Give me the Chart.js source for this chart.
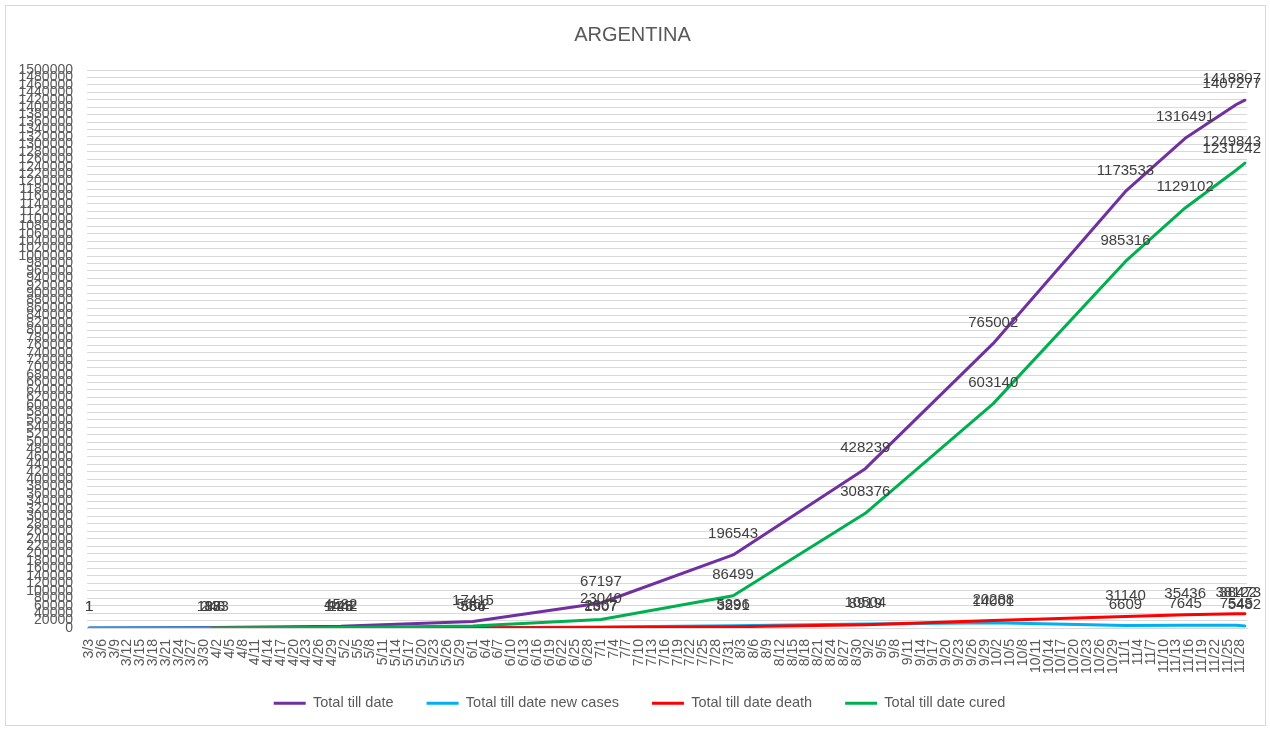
<!DOCTYPE html>
<html>
<head>
<meta charset="utf-8">
<script src="https://cdn.jsdelivr.net/npm/chart.js@4.4.0/dist/chart.umd.min.js"></script>
<style>
  html, body { margin: 0; padding: 0; background: #fff; }
  #frame { position: absolute; left: 5px; top: 5px; width: 1259px; height: 719px; border: 1px solid #d9d9d9; }
</style>
</head>
<body>
<div id="frame"><canvas id="chart" width="1259" height="719"></canvas></div>
<script>
// dates that carry a reading, and the readings themselves
const pointDates = ['3/3', '4/1', '5/1', '6/1', '7/1', '8/1', '9/1', '10/1', '11/1', '11/15', '11/27', '11/29'];
const totalCases = [1, 1133, 4532, 17415, 67197, 196543, 428239, 765002, 1173533, 1316491, 1407277, 1418807];
const newCases = [1, 88, 143, 564, 2667, 5896, 10504, 14001, 6609, 7645, 7545, 5482];
const deaths = [null, 37, 225, 556, 1307, 3291, 8919, 20288, 31140, 35436, 38122, 38473];
const cured = [null, 248, 1442, 5662, 23040, 86499, 308376, 603140, 985316, 1129102, 1231242, 1249843];

const seriesNames = ['Total till date', 'Total till date new cases', 'Total till date death', 'Total till date cured'];
const seriesColors = ['#7030A0', '#00B0F0', '#FF0000', '#00B050'];

// y axis: 0 .. 1500000 every 20000
const yMin = 0, yMax = 1500000, yStep = 20000;

// date axis, one category per day, 3/3 .. 11/29 (2020)
const dayLabels = [];
for (let d = new Date(2020, 2, 3); d <= new Date(2020, 10, 29); d.setDate(d.getDate() + 1)) {
    dayLabels.push((d.getMonth() + 1) + '/' + d.getDate());
}

function onAxis(values) {
    return dayLabels.map(function (lbl) {
        const i = pointDates.indexOf(lbl);
        return i < 0 ? null : values[i];
    });
}

const FONT = '"Liberation Sans", Arial, sans-serif';

// data labels above each reading, kept inside the frame on the right
const pointLabels = {
    id: 'pointLabels',
    afterDatasetsDraw(chart) {
        const ctx = chart.ctx;
        const maxRight = chart.width - 4;
        ctx.save();
        ctx.font = '15px ' + FONT;
        ctx.fillStyle = '#404040';
        ctx.textAlign = 'center';
        ctx.textBaseline = 'middle';
        chart.data.datasets.forEach(function (ds, di) {
            const meta = chart.getDatasetMeta(di);
            meta.data.forEach(function (pt, i) {
                const v = ds.data[i];
                if (v === null || v === undefined) return;
                const txt = String(v);
                const half = ctx.measureText(txt).width / 2;
                const x = Math.min(pt.x, maxRight - half);
                ctx.fillText(txt, x, pt.y - 21);
            });
        });
        ctx.restore();
    }
};

// legend sits closer to the axis labels and a little right of centre
const legendNudge = {
    id: 'legendNudge',
    afterLayout(chart) {
        chart.legend.top -= 12;
        chart.legend.bottom -= 12;
        chart.legend.left += 7;
        chart.legend.right += 7;
    }
};

const allSeries = [totalCases, newCases, deaths, cured];

new Chart(document.getElementById('chart'), {
    type: 'line',
    data: {
        labels: dayLabels,
        datasets: allSeries.map(function (vals, i) {
            return {
                label: seriesNames[i],
                data: onAxis(vals),
                borderColor: seriesColors[i],
                backgroundColor: seriesColors[i],
                borderWidth: 3,
                borderCapStyle: 'round',
                borderJoinStyle: 'round',
                pointRadius: 0,
                tension: 0,
                spanGaps: true,
                order: 4 - i
            };
        })
    },
    options: {
        responsive: false,
        animation: false,
        layout: { padding: { left: 12, right: 18, top: 0, bottom: -7.5 } },
        plugins: {
            title: {
                display: true,
                text: 'ARGENTINA',
                color: '#595959',
                font: { family: FONT, size: 20, weight: 'normal' },
                padding: { top: 17, bottom: 23 }
            },
            legend: {
                position: 'bottom',
                labels: {
                    color: '#595959',
                    font: { family: FONT, size: 14.5 },
                    boxWidth: 32,
                    boxHeight: 3,
                    padding: 33,
                    generateLabels: function (chart) {
                        return chart.data.datasets.map(function (ds, i) {
                            return {
                                text: ds.label,
                                fillStyle: ds.borderColor,
                                strokeStyle: ds.borderColor,
                                lineWidth: 0,
                                hidden: false,
                                datasetIndex: i,
                                fontColor: '#595959'
                            };
                        });
                    }
                }
            },
            tooltip: { enabled: false }
        },
        scales: {
            x: {
                offset: true,
                grid: { display: false, drawTicks: false },
                border: { color: '#D9D9D9' },
                afterFit: function (scale) {
                    scale.height = 47;
                    scale.paddingLeft = 0;
                    scale.paddingRight = 0;
                },
                ticks: {
                    autoSkip: false,
                    maxRotation: 90,
                    minRotation: 90,
                    padding: 11,
                    color: '#595959',
                    font: { family: FONT, size: 14 },
                    callback: function (val, idx) {
                        return idx % 3 === 0 ? this.getLabelForValue(val) : '';
                    }
                }
            },
            y: {
                min: yMin,
                max: yMax,
                grid: { color: '#D9D9D9', drawTicks: false },
                border: { display: false },
                afterFit: function (scale) { scale.width = 69; },
                ticks: {
                    stepSize: yStep,
                    autoSkip: false,
                    padding: 14,
                    color: '#595959',
                    font: { family: FONT, size: 14 },
                    callback: function (v) { return String(v); }
                }
            }
        }
    },
    plugins: [pointLabels, legendNudge]
});
</script>
</body>
</html>
